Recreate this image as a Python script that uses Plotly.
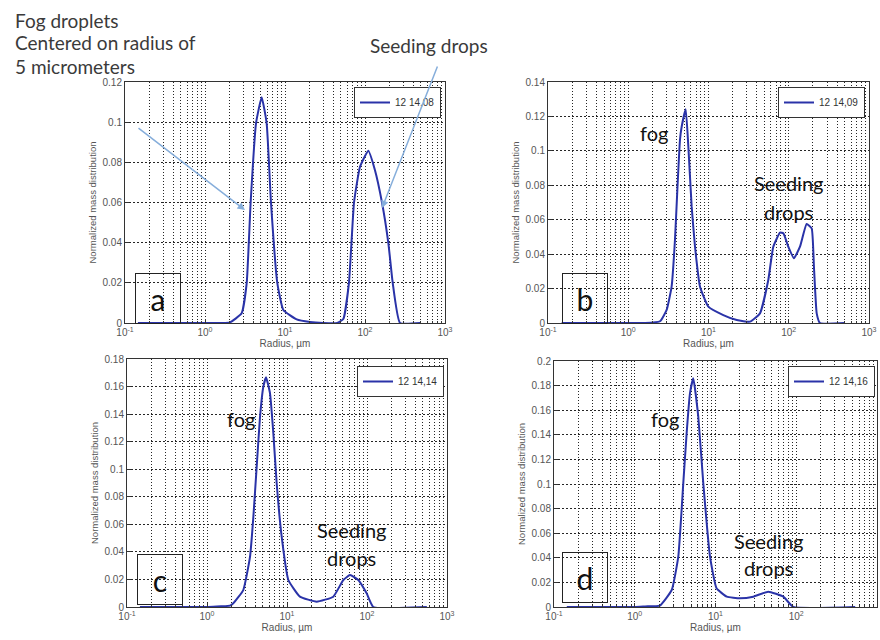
import plotly.graph_objects as go

# ---------------- data ----------------
labels = ["12 14,08", "12 14,09", "12 14,14", "12 14,16"]
panel_letters = ["a", "b", "c", "d"]

x_tick_vals = [0.1, 1, 10, 100, 1000]
x_tick_text = ["10<sup>-1</sup>", "10<sup>0</sup>", "10<sup>1</sup>", "10<sup>2</sup>", "10<sup>3</sup>"]

ra = [0.145, 0.5, 1.0, 1.6, 2.05, 2.87, 3.32, 3.72, 4.34, 5.11, 5.9, 6.68, 8.01, 9.53, 14, 20.5, 30, 45,
      53.6, 63, 72.9, 86.6, 110, 133, 163, 196, 222, 274, 490]
va = [0, 0, 0, 0, 0.0003, 0.0048, 0.0198, 0.06, 0.0994, 0.1124, 0.0994, 0.06, 0.02, 0.0065, 0.0018, 0.0005, 0, 0,
      0.002, 0.02, 0.06, 0.0778, 0.0858, 0.0762, 0.06, 0.0397, 0.02, 0, 0]

rb = [0.148, 0.5, 1.0, 1.6, 2.49, 3.01, 3.47, 3.82, 4.09, 4.41, 4.63, 5.2, 5.61, 6.17, 6.79, 7.84, 9.95, 15.3,
      22.5, 32.9, 43.8, 55.6, 64.2, 77.8, 85.6, 98.8, 116, 138, 167, 193, 206, 223, 245, 500]
vb = [0, 0, 0, 0, 0.001, 0.0076, 0.0211, 0.0482, 0.0773, 0.1063, 0.114, 0.1241, 0.1024, 0.0676, 0.0443, 0.0211,
      0.0095, 0.0046, 0.0017, 0.0008, 0.0056, 0.025, 0.0443, 0.0525, 0.0521, 0.0443, 0.0376, 0.0443, 0.0575,
      0.055, 0.0327, 0.0056, 0, 0]

rc = [0.145, 0.5, 1.03, 1.5, 1.94, 2.13, 2.84, 3.45, 3.8, 4.18, 4.6, 5.06, 5.47, 6.13, 6.75, 7.43, 8.58, 10.4,
      14.5, 23.5, 37.9, 50.6, 61.3, 77.9, 99, 120, 560]
vc = [0, 0, 0, 0.0005, 0.001, 0.0027, 0.0123, 0.0365, 0.0656, 0.1019, 0.1381, 0.1599, 0.1667, 0.1551, 0.1261,
      0.0898, 0.051, 0.0196, 0.0075, 0.0039, 0.0075, 0.0196, 0.0232, 0.0196, 0.0099, 0, 0]

rd = [0.144, 0.5, 1.0, 1.34, 2.05, 2.87, 3.46, 3.99, 4.39, 4.83, 5.31, 6.12, 7.06, 8.55, 10.3, 13.8, 20.1, 29.4,
      45.1, 69.2, 91.9, 537]
vd = [0, 0, 0, 0.0005, 0.0012, 0.0138, 0.0409, 0.1005, 0.1412, 0.1737, 0.1859, 0.1547, 0.1005, 0.0409, 0.0152,
      0.0084, 0.0071, 0.0084, 0.0125, 0.0084, 0, 0]

y_max = [0.12, 0.14, 0.18, 0.2]
x_range_log = [-1, 3]

radii = [ra, rb, rc, rd]
values = [va, vb, vc, vd]

# ---------------- layout helpers ----------------
W, H = 880, 640
def px(x):
    return x / W
def py(y):
    return 1 - y / H

# plot-area rectangles in pixels: (left, right, top, bottom)
rects = [(125, 445, 82, 323), (548, 869, 82, 323), (127, 447, 359, 607), (554, 877, 361, 607)]
legend_pos = [(441, 87), (865, 87), (444, 366), (875, 366)]
letter_boxes = [(157.5, 298), (584.5, 298), (159.5, 579), (585, 577.5)]

LINE = "#2a33a8"
GRID = "#262626"
TICKC = "#555555"
TFONT = "Liberation Sans"
AFONT = "Lato"

fig = go.Figure()
layout = dict(
    width=W, height=H,
    margin=dict(l=0, r=0, t=0, b=0),
    paper_bgcolor="white", plot_bgcolor="white",
    showlegend=True,
)

for i in range(4):
    n = "" if i == 0 else str(i + 1)
    l, r, t, b = rects[i]
    xa = "x" + n
    ya = "y" + n
    leg = "legend" + n
    fig.add_trace(go.Scatter(
        x=radii[i], y=values[i], mode="lines", name=labels[i],
        line=dict(color=LINE, width=2, shape="spline", smoothing=0.4),
        xaxis=xa, yaxis=ya, legend=leg, showlegend=True,
    ))
    layout["xaxis" + n] = dict(
        type="log", range=x_range_log, domain=[px(l), px(r)], anchor=ya,
        tickmode="array", tickvals=x_tick_vals, ticktext=x_tick_text,
        showgrid=True, griddash="1px,2px", gridcolor=GRID, gridwidth=1,
        minor=dict(dtick="D1", showgrid=True, griddash="1px,2px", gridcolor=GRID, gridwidth=1,
                   ticks="inside", ticklen=2, tickcolor="#333"),
        showline=True, linecolor="#333", linewidth=1, mirror=True,
        ticks="inside", ticklen=4, tickcolor="#333",
        tickfont=dict(family=TFONT, size=10, color=TICKC),
        title=dict(text="Radius, µm", font=dict(family=TFONT, size=10, color=TICKC), standoff=2),
        zeroline=False, automargin=False,
    )
    layout["yaxis" + n] = dict(
        range=[0, y_max[i]], domain=[py(b), py(t)], anchor=xa,
        dtick=0.02,
        showgrid=True, griddash="2px,2px", gridcolor=GRID, gridwidth=1,
        showline=True, linecolor="#333", linewidth=1, mirror=True,
        ticks="inside", ticklen=4, tickcolor="#333",
        tickfont=dict(family=TFONT, size=10, color=TICKC),
        title=dict(text="Normalized mass distribution", font=dict(family=TFONT, size=9.5, color=TICKC), standoff=4),
        zeroline=False, automargin=False,
    )
    lx, ly = legend_pos[i]
    layout[leg] = dict(
        x=px(lx), y=py(ly), xanchor="right", yanchor="top",
        bgcolor="white", bordercolor="#333", borderwidth=1,
        font=dict(family=TFONT, size=10, color="#333"),
        itemwidth=30, tracegroupgap=0,
    )

annotations = []
# panel letters in boxes
for i in range(4):
    cx, cy = letter_boxes[i]
    annotations.append(dict(
        x=px(cx), y=py(cy), xref="paper", yref="paper", text=panel_letters[i], showarrow=False,
        width=44, height=49, borderpad=0, bordercolor="#222", borderwidth=1,
        font=dict(family=AFONT, size=30, color="#111"), xanchor="center", yanchor="middle",
    ))

def text_ann(x, y, s, size=20, color="#111", xanchor="center"):
    annotations.append(dict(x=px(x), y=py(y), xref="paper", yref="paper", text=s, showarrow=False,
                            font=dict(family=AFONT, size=size, color=color), xanchor=xanchor, yanchor="middle"))

# header texts
text_ann(13, 20, "Fog droplets", 19, "#3a3a3a", "left")
text_ann(13, 43, "Centered on radius of", 19, "#3a3a3a", "left")
text_ann(13, 66, "5 micrometers", 19, "#3a3a3a", "left")
text_ann(368, 45, "Seeding drops", 19, "#3a3a3a", "left")

# panel annotations
text_ann(654, 133, "fog")
text_ann(788, 183, "Seeding")
text_ann(788, 212, "drops")
text_ann(241, 419, "fog")
text_ann(351, 530, "Seeding")
text_ann(351, 558, "drops")
text_ann(665, 419, "fog")
text_ann(768, 541, "Seeding")
text_ann(768, 568, "drops")

# arrows
ARROW = "#86aedb"
annotations.append(dict(x=px(245), y=py(210), xref="paper", yref="paper", ax=-108, ay=-83, text="",
                        showarrow=True, arrowhead=2, arrowsize=1, arrowwidth=1.5, arrowcolor=ARROW))
annotations.append(dict(x=px(382), y=py(208), xref="paper", yref="paper", ax=56, ay=-143, text="",
                        showarrow=True, arrowhead=2, arrowsize=1, arrowwidth=1.5, arrowcolor=ARROW))

layout["annotations"] = annotations
fig.update_layout(**layout)
fig.write_html("out.html")
